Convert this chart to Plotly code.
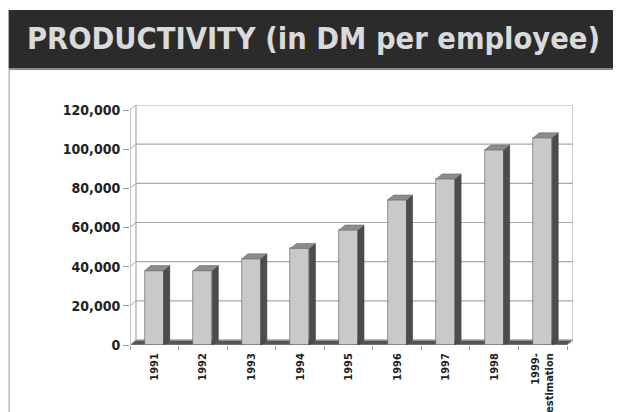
import plotly.graph_objects as go

# ---- data ----
categories = ["1991", "1992", "1993", "1994", "1995", "1996", "1997", "1998", "1999-<br>estimation"]
values = [38000, 38000, 44000, 49300, 58700, 74000, 84800, 99600, 105800]
y_ticks = [0, 20000, 40000, 60000, 80000, 100000, 120000]
title_text = "PRODUCTIVITY (in DM per employee)"

# ---- geometry (pixels, in page coordinates; page body has an 8px margin) ----
PAGE_W, PAGE_H = 621, 412
OFF = 8  # default body margin of the html page
W, H = PAGE_W - OFF, PAGE_H - OFF
n = len(categories)
slot_px = 48.6
left_px = 129.5 - OFF
bottom_px = 345.0 - OFF
px_per_unit_y = 39.17 / 20000.0
depth_dx_px, depth_dy_px = 6.0, 5.0
dxu = depth_dx_px / slot_px
dyu = depth_dy_px / px_per_unit_y
ymax = y_ticks[-1]
x_lo, x_hi = -0.5, n - 0.5 + dxu
y_lo, y_hi = 0, ymax + dyu
plot_w = (x_hi - x_lo) * slot_px
plot_h = (y_hi - y_lo) * px_per_unit_y
m_l = left_px
m_r = W - left_px - plot_w
m_b = H - bottom_px
m_t = bottom_px - plot_h


def pxx(p):
    """page pixel x -> paper coordinate"""
    return (p - OFF - m_l) / plot_w


def pxy(p):
    """page pixel y -> paper coordinate"""
    return (bottom_px - (p - OFF)) / plot_h


bar_w = 0.39
front_col = "#c9c9c9"
side_col = "#4c4c4c"
top_col = "#8c8c8c"
edge_col = "#555555"
grid_col = "#a8a8a8"

fig = go.Figure()

# front faces
fig.add_trace(go.Bar(
    x=list(range(n)), y=values, width=bar_w,
    marker=dict(color=front_col, line=dict(color=edge_col, width=0.6)),
    hoverinfo="skip", showlegend=False,
))

# side faces & top faces
sx, sy, tx, ty = [], [], [], []
for i, v in enumerate(values):
    r = i + bar_w / 2
    l = i - bar_w / 2
    sx += [r, r + dxu, r + dxu, r, r, None]
    sy += [0, dyu, v + dyu, v, 0, None]
    tx += [l, l + dxu, r + dxu, r, l, None]
    ty += [v, v + dyu, v + dyu, v, v, None]
fig.add_trace(go.Scatter(x=sx, y=sy, mode="lines", fill="toself", fillcolor=side_col,
                         line=dict(color="#3a3a3a", width=0.6), hoverinfo="skip", showlegend=False))
fig.add_trace(go.Scatter(x=tx, y=ty, mode="lines", fill="toself", fillcolor=top_col,
                         line=dict(color="#6a6a6a", width=0.6), hoverinfo="skip", showlegend=False))

shapes = []
# title bar
shapes.append(dict(type="rect", xref="paper", yref="paper", x0=pxx(8), x1=pxx(PAGE_W + 4), y0=pxy(68), y1=pxy(10),
                   fillcolor="#2b2b2b", line=dict(width=0), layer="below"))
shapes.append(dict(type="line", xref="paper", yref="paper", x0=pxx(8), x1=pxx(PAGE_W + 4), y0=pxy(69), y1=pxy(69),
                   line=dict(color="#8a8a8a", width=2), layer="below"))
shapes.append(dict(type="line", xref="paper", yref="paper", x0=pxx(8.5), x1=pxx(8.5), y0=pxy(70), y1=pxy(PAGE_H + 4),
                   line=dict(color="#9a9a9a", width=1), layer="below"))

# floor
shapes.append(dict(type="path", xref="x", yref="y",
                   path=f"M {x_lo} 0 L {n - 0.5} 0 L {n - 0.5 + dxu} {dyu} L {x_lo + dxu} {dyu} Z",
                   fillcolor="#555555", line=dict(color="#9a9a9a", width=0.8), layer="below"))
# back-wall gridlines and connectors
for v in y_ticks:
    shapes.append(dict(type="line", xref="x", yref="y", x0=x_lo + dxu, x1=x_hi, y0=v + dyu, y1=v + dyu,
                       line=dict(color=grid_col, width=1.2), layer="below"))
    shapes.append(dict(type="line", xref="x", yref="y", x0=x_lo, x1=x_lo + dxu, y0=v, y1=v + dyu,
                       line=dict(color=grid_col, width=1), layer="below"))
# wall verticals
shapes.append(dict(type="line", xref="x", yref="y", x0=x_lo + dxu, x1=x_lo + dxu, y0=dyu, y1=ymax + dyu,
                   line=dict(color=grid_col, width=1.2), layer="below"))
shapes.append(dict(type="line", xref="x", yref="y", x0=x_hi, x1=x_hi, y0=dyu, y1=ymax + dyu,
                   line=dict(color=grid_col, width=1.2), layer="below"))
shapes.append(dict(type="line", xref="x", yref="y", x0=x_lo, x1=x_lo, y0=0, y1=ymax,
                   line=dict(color=grid_col, width=1.2), layer="below"))

fig.update_layout(
    width=W, height=H,
    margin=dict(l=m_l, r=m_r, t=m_t, b=m_b, pad=0, autoexpand=False),
    paper_bgcolor="white", plot_bgcolor="white",
    shapes=shapes,
    bargap=0,
    annotations=[dict(text=title_text, xref="paper", yref="paper", x=pxx(24), y=pxy(38),
                      xanchor="left", yanchor="middle", showarrow=False,
                      font=dict(family="DejaVu Sans Condensed", size=30.5, color="#dadada", weight="bold"))],
    xaxis=dict(range=[x_lo, x_hi], tickvals=list(range(n)), ticktext=categories, tickangle=-90,
               showgrid=False, zeroline=False, showline=False, ticks="", ticklabelstandoff=5,
               automargin=False, fixedrange=True,
               tickfont=dict(family="DejaVu Sans Condensed", size=11, color="#222222", weight="bold"),
               minor=dict(tickvals=[i - 0.5 for i in range(n + 1)], ticks="outside", ticklen=4,
                          tickcolor="#999999", tickwidth=1, showgrid=False)),
    yaxis=dict(range=[y_lo, y_hi], tickvals=y_ticks, tickformat=",d", showgrid=False, zeroline=False,
               showline=False, ticks="outside", ticklen=6, tickcolor="#999999",
               automargin=False, fixedrange=True,
               tickfont=dict(family="DejaVu Sans Condensed", size=14, color="#222222", weight="bold")),
)

fig.write_html("out.html")
